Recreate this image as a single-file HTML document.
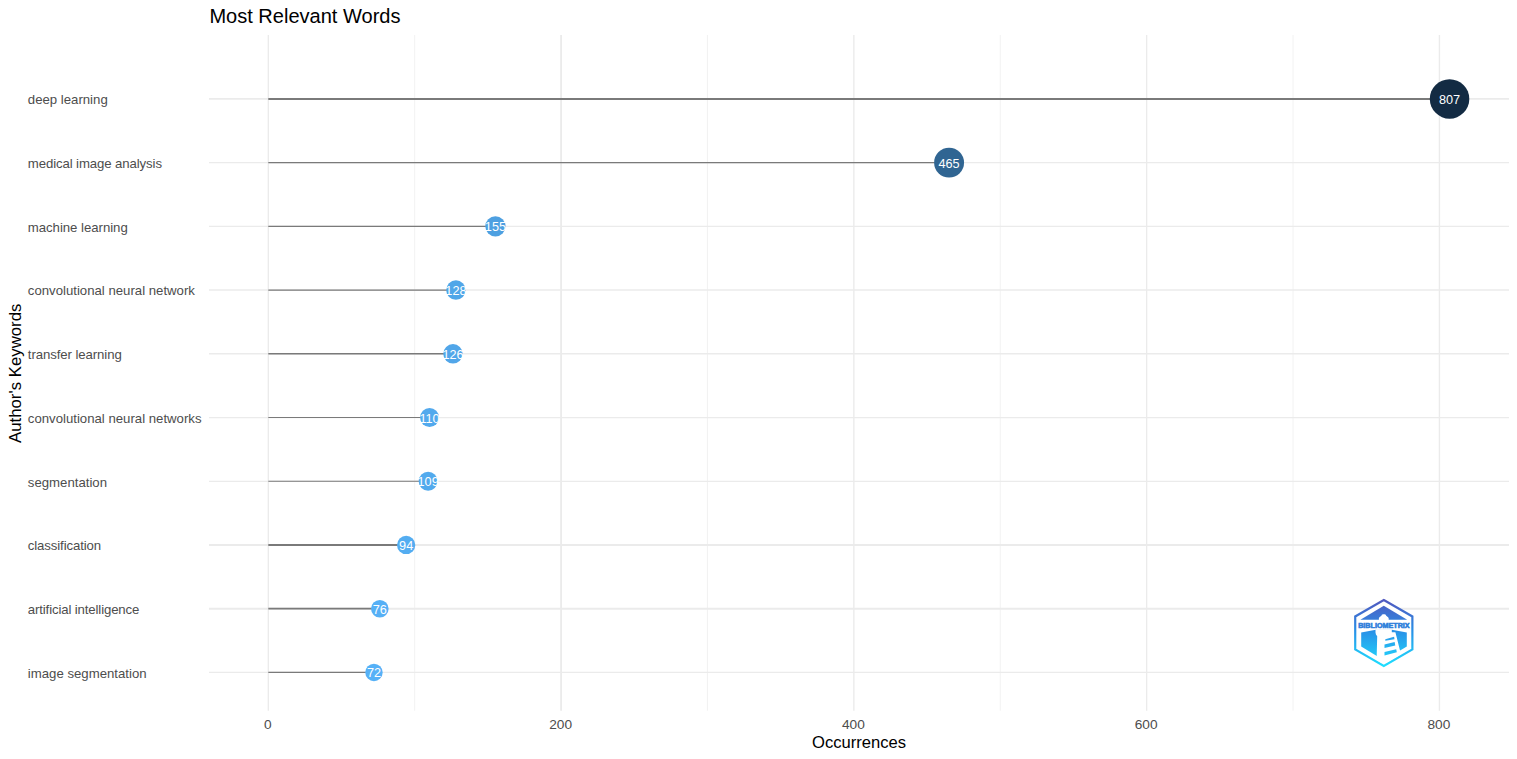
<!DOCTYPE html>
<html><head><meta charset="utf-8"><title>Most Relevant Words</title>
<style>
html,body{margin:0;padding:0;background:#fff;}
body{width:1517px;height:759px;overflow:hidden;position:relative;font-family:"Liberation Sans",sans-serif;}
svg text{font-family:"Liberation Sans",sans-serif;}
</style></head><body>
<svg width="1517" height="759" viewBox="0 0 1517 759" style="position:absolute;left:0;top:0">
<defs><linearGradient id="lgs" gradientUnits="userSpaceOnUse" x1="0" y1="-34" x2="0" y2="34"><stop offset="0" stop-color="#5257be"/><stop offset="0.45" stop-color="#2a8ee6"/><stop offset="1" stop-color="#1fe0ff"/></linearGradient><linearGradient id="lgf" gradientUnits="userSpaceOnUse" x1="0" y1="-34" x2="0" y2="34"><stop offset="0" stop-color="#5257be"/><stop offset="0.45" stop-color="#2a8ee6"/><stop offset="1" stop-color="#1fe0ff"/></linearGradient></defs>
<rect width="1517" height="759" fill="#fff"/>
<line x1="414.69" x2="414.69" y1="35.0" y2="710.7" stroke="#ebebeb" stroke-width="0.65"/>
<line x1="707.47" x2="707.47" y1="35.0" y2="710.7" stroke="#ebebeb" stroke-width="0.65"/>
<line x1="1000.25" x2="1000.25" y1="35.0" y2="710.7" stroke="#ebebeb" stroke-width="0.65"/>
<line x1="1293.03" x2="1293.03" y1="35.0" y2="710.7" stroke="#ebebeb" stroke-width="0.65"/>
<line x1="268.30" x2="268.30" y1="35.0" y2="710.7" stroke="#ebebeb" stroke-width="1.35"/>
<line x1="561.08" x2="561.08" y1="35.0" y2="710.7" stroke="#ebebeb" stroke-width="1.8"/>
<line x1="853.86" x2="853.86" y1="35.0" y2="710.7" stroke="#ebebeb" stroke-width="1.35"/>
<line x1="1146.64" x2="1146.64" y1="35.0" y2="710.7" stroke="#ebebeb" stroke-width="1.35"/>
<line x1="1439.42" x2="1439.42" y1="35.0" y2="710.7" stroke="#ebebeb" stroke-width="1.35"/>
<line x1="209.0" x2="1509.0" y1="98.90" y2="98.90" stroke="#ebebeb" stroke-width="1.9"/>
<line x1="209.0" x2="1509.0" y1="162.63" y2="162.63" stroke="#ebebeb" stroke-width="1.25"/>
<line x1="209.0" x2="1509.0" y1="226.36" y2="226.36" stroke="#ebebeb" stroke-width="1.45"/>
<line x1="209.0" x2="1509.0" y1="290.08" y2="290.08" stroke="#ebebeb" stroke-width="1.45"/>
<line x1="209.0" x2="1509.0" y1="353.81" y2="353.81" stroke="#ebebeb" stroke-width="1.45"/>
<line x1="209.0" x2="1509.0" y1="417.54" y2="417.54" stroke="#ebebeb" stroke-width="1.25"/>
<line x1="209.0" x2="1509.0" y1="481.27" y2="481.27" stroke="#ebebeb" stroke-width="1.25"/>
<line x1="209.0" x2="1509.0" y1="544.99" y2="544.99" stroke="#ebebeb" stroke-width="1.9"/>
<line x1="209.0" x2="1509.0" y1="608.72" y2="608.72" stroke="#ebebeb" stroke-width="1.9"/>
<line x1="209.0" x2="1509.0" y1="672.45" y2="672.45" stroke="#ebebeb" stroke-width="1.25"/>
<line x1="268.30" x2="1449.56" y1="98.90" y2="98.90" stroke="#7a7a7a" stroke-width="2.0"/>
<line x1="268.30" x2="949.08" y1="162.63" y2="162.63" stroke="#7a7a7a" stroke-width="1.2"/>
<line x1="268.30" x2="495.43" y1="226.36" y2="226.36" stroke="#7a7a7a" stroke-width="1.4"/>
<line x1="268.30" x2="455.92" y1="290.08" y2="290.08" stroke="#7a7a7a" stroke-width="1.4"/>
<line x1="268.30" x2="452.99" y1="353.81" y2="353.81" stroke="#7a7a7a" stroke-width="1.4"/>
<line x1="268.30" x2="429.57" y1="417.54" y2="417.54" stroke="#7a7a7a" stroke-width="1.15"/>
<line x1="268.30" x2="428.11" y1="481.27" y2="481.27" stroke="#7a7a7a" stroke-width="1.15"/>
<line x1="268.30" x2="406.16" y1="544.99" y2="544.99" stroke="#7a7a7a" stroke-width="1.8"/>
<line x1="268.30" x2="379.82" y1="608.72" y2="608.72" stroke="#7a7a7a" stroke-width="1.8"/>
<line x1="268.30" x2="373.96" y1="672.45" y2="672.45" stroke="#7a7a7a" stroke-width="1.2"/>
<circle cx="1449.56" cy="98.90" r="19.75" fill="#132b43"/>
<circle cx="949.08" cy="162.63" r="14.95" fill="#306592"/>
<circle cx="495.43" cy="226.36" r="10.15" fill="#4ea0e1"/>
<circle cx="455.92" cy="290.08" r="9.73" fill="#50a6e8"/>
<circle cx="452.99" cy="353.81" r="9.70" fill="#51a6e9"/>
<circle cx="429.57" cy="417.54" r="9.45" fill="#52a9ed"/>
<circle cx="428.11" cy="481.27" r="9.43" fill="#52aaed"/>
<circle cx="406.16" cy="544.99" r="9.13" fill="#54adf1"/>
<circle cx="379.82" cy="608.72" r="8.78" fill="#56b0f6"/>
<circle cx="373.96" cy="672.45" r="8.70" fill="#56b1f7"/>
<text x="1449.56" y="103.90" text-anchor="middle" font-size="12.7" fill="#fff">807</text>
<text x="949.08" y="167.63" text-anchor="middle" font-size="12.7" fill="#fff">465</text>
<text x="495.43" y="231.36" text-anchor="middle" font-size="12.7" fill="#fff">155</text>
<text x="455.92" y="295.08" text-anchor="middle" font-size="12.7" fill="#fff">128</text>
<text x="452.99" y="358.81" text-anchor="middle" font-size="12.7" fill="#fff">126</text>
<text x="429.57" y="422.54" text-anchor="middle" font-size="12.7" fill="#fff">110</text>
<text x="428.11" y="486.27" text-anchor="middle" font-size="12.7" fill="#fff">109</text>
<text x="406.16" y="549.99" text-anchor="middle" font-size="12.7" fill="#fff">94</text>
<text x="379.82" y="613.72" text-anchor="middle" font-size="12.7" fill="#fff">76</text>
<text x="373.96" y="677.45" text-anchor="middle" font-size="12.7" fill="#fff">72</text>
<text x="27.8" y="104.20" font-size="13.2" fill="#4d4d4d" letter-spacing="-0.000">deep learning</text>
<text x="27.8" y="167.93" font-size="13.2" fill="#4d4d4d" letter-spacing="-0.101">medical image analysis</text>
<text x="27.8" y="231.66" font-size="13.2" fill="#4d4d4d" letter-spacing="-0.034">machine learning</text>
<text x="27.8" y="295.38" font-size="13.2" fill="#4d4d4d" letter-spacing="-0.000">convolutional neural network</text>
<text x="27.8" y="359.11" font-size="13.2" fill="#4d4d4d" letter-spacing="-0.083">transfer learning</text>
<text x="27.8" y="422.84" font-size="13.2" fill="#4d4d4d" letter-spacing="-0.000">convolutional neural networks</text>
<text x="27.8" y="486.57" font-size="13.2" fill="#4d4d4d" letter-spacing="-0.000">segmentation</text>
<text x="27.8" y="550.29" font-size="13.2" fill="#4d4d4d" letter-spacing="-0.113">classification</text>
<text x="27.8" y="614.02" font-size="13.2" fill="#4d4d4d" letter-spacing="-0.126">artificial intelligence</text>
<text x="27.8" y="677.75" font-size="13.2" fill="#4d4d4d" letter-spacing="-0.000">image segmentation</text>
<text x="267.80" y="728.5" text-anchor="middle" font-size="13.7" fill="#4d4d4d">0</text>
<text x="560.58" y="728.5" text-anchor="middle" font-size="13.7" fill="#4d4d4d">200</text>
<text x="853.36" y="728.5" text-anchor="middle" font-size="13.7" fill="#4d4d4d">400</text>
<text x="1146.14" y="728.5" text-anchor="middle" font-size="13.7" fill="#4d4d4d">600</text>
<text x="1438.92" y="728.5" text-anchor="middle" font-size="13.7" fill="#4d4d4d">800</text>
<text x="209.4" y="22.8" font-size="20.05" fill="#000">Most Relevant Words</text>
<text transform="translate(859,748) scale(1,1.045)" text-anchor="middle" font-size="16.6" fill="#000">Occurrences</text>
<text transform="translate(21,373.3) rotate(-90)" text-anchor="middle" font-size="16.8" fill="#000">Author's Keywords</text>
<g transform="translate(1383.8,632.95)">
<polygon points="0.00,-33.00 28.58,-16.50 28.58,16.50 0.00,33.00 -28.58,16.50 -28.58,-16.50" fill="#fff" stroke="url(#lgs)" stroke-width="2.2" stroke-linejoin="miter"/>
<polygon points="0,-27.25 23.4,-13.2 -23.4,-13.2" fill="url(#lgf)"/>
<polygon points="-22.6,-0.4 -8,-3.3 8,-3.3 23.0,-0.4 23.0,13.5 0,27.25 -22.6,13.5" fill="url(#lgf)"/>
<path d="M-4.9,-12.6 L-4.9,-14.4 C-4.9,-16.6 -2.4,-16.4 -2.2,-17.8 C-2.0,-19.0 2.0,-19.0 2.2,-17.8 C2.4,-16.4 4.9,-16.6 4.9,-14.4 L4.9,-12.6 Z" fill="#fff"/>
<clipPath id="hc"><polygon points="0.00,-31.20 27.02,-15.60 27.02,15.60 0.00,31.20 -27.02,15.60 -27.02,-15.60"/></clipPath>
<path clip-path="url(#hc)" d="M-8.3,-3.6 L8,-3.6 L8,-0.8 L11.6,-0.6 L16.6,19 L16.6,30 L-7.3,30 L-6.6,3.2 Q-8.3,1.5 -8.3,-0.5 Z" fill="#fff"/>
<polygon points="1.5,6.4 10.3,3.9 10.7,6.3 1.5,7.7" fill="url(#lgf)"/>
<polygon points="0.7,11.5 10.8,9.0 11.5,12.5 0.7,15.1" fill="url(#lgf)"/>
<polygon points="0.7,19.0 12.4,16.2 13.2,19.6 0.7,26.8" fill="url(#lgf)" opacity="0"/>
<polygon points="0.7,19.0 12.4,16.2 13.0,19.4 0.7,22.6" fill="url(#lgf)"/>
<text x="0.1" y="-4.65" text-anchor="middle" font-size="6.3" font-weight="bold" fill="#2f7fdb" stroke="#2f7fdb" stroke-width="0.55" textLength="51.5" lengthAdjust="spacingAndGlyphs">BIBLIOMETRIX</text>
</g>
</svg>
</body></html>
